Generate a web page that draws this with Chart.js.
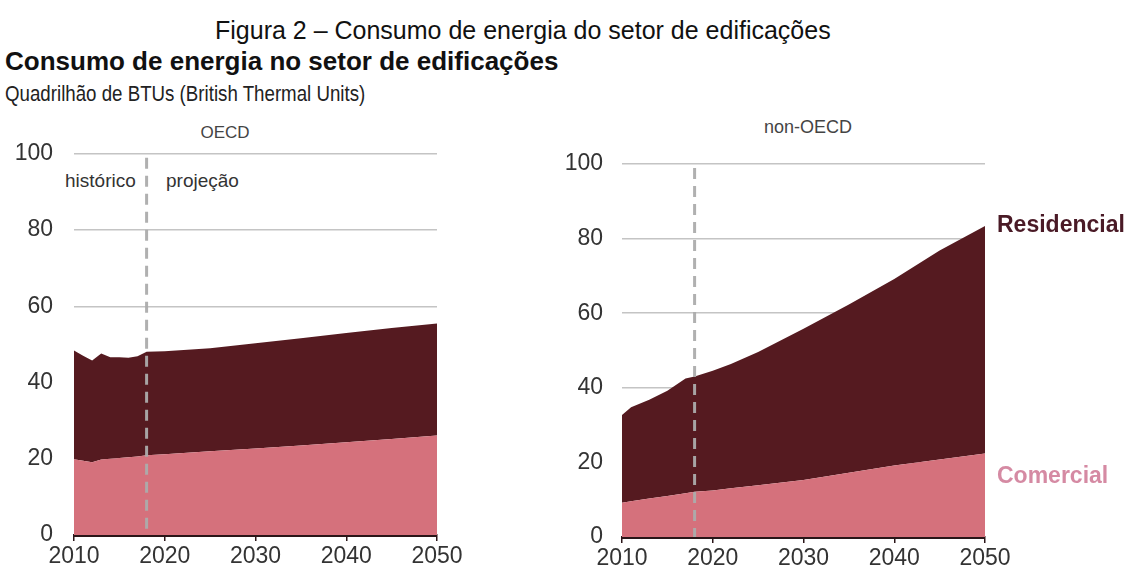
<!DOCTYPE html>
<html lang="pt-BR">
<head>
<meta charset="utf-8">
<script src="https://cdn.jsdelivr.net/npm/chart.js@4.4.1/dist/chart.umd.min.js"></script>
<style>
  html, body { margin: 0; padding: 0; background: #fff; }
  body { width: 1141px; height: 577px; position: relative; overflow: hidden; font-family: "Liberation Sans", Arial, sans-serif; }
  .txt { position: absolute; white-space: nowrap; line-height: 1; }
  canvas { position: absolute; }
</style>
</head>
<body>
<div class="txt" style="left:215px; top:18px; font-size:25px; color:#111;">Figura 2 – Consumo de energia do setor de edificações</div>
<div class="txt" style="left:5px; top:48px; font-size:26px; font-weight:bold; color:#111;">Consumo de energia no setor de edificações</div>
<div class="txt" style="left:5px; top:83px; font-size:22px; color:#222; transform:scaleX(0.85); transform-origin:left top;">Quadrilhão de BTUs (British Thermal Units)</div>

<div class="txt" style="left:225px; top:124px; font-size:17px; color:#444; transform:translateX(-50%);">OECD</div>
<div class="txt" style="left:808px; top:118px; font-size:18px; color:#444; transform:translateX(-50%);">non-OECD</div>
<div class="txt" style="left:65px; top:171px; font-size:19px; color:#333;">histórico</div>
<div class="txt" style="left:166px; top:171px; font-size:19px; color:#333;">projeção</div>

<canvas id="oecd" width="480" height="437" style="left:0; top:140px; width:480px; height:437px;"></canvas>
<canvas id="naoOecd" width="601" height="437" style="left:540px; top:140px; width:601px; height:437px;"></canvas>

<div class="txt" style="left:997px; top:213px; font-size:23px; font-weight:bold; color:#4a1a26;">Residencial</div>
<div class="txt" style="left:997px; top:464px; font-size:23px; font-weight:bold; color:#d58aa3;">Comercial</div>

<script>
// dados (quadrilhão de BTU)
const anosOecd = [2010, 2011, 2012, 2013, 2014, 2015, 2016, 2017, 2018, 2020, 2025, 2030, 2035, 2040, 2045, 2050];
const comercialOecd = [19.9, 19.5, 19.1, 19.8, 20.0, 20.2, 20.4, 20.6, 20.9, 21.2, 22.0, 22.7, 23.5, 24.3, 25.2, 26.1];
const residencialOecd = [28.5, 27.5, 26.7, 27.8, 26.6, 26.4, 26.1, 26.3, 27.2, 27.0, 27.0, 27.6, 28.1, 28.7, 29.1, 29.4];

const anosNaoOecd = [2010, 2011, 2013, 2015, 2017, 2018, 2020, 2022, 2025, 2030, 2035, 2040, 2045, 2050];
const comercialNaoOecd = [9.2, 9.6, 10.3, 11.0, 11.7, 12.1, 12.5, 13.1, 13.9, 15.3, 17.2, 19.2, 20.8, 22.4];
const residencialNaoOecd = [23.5, 25.2, 26.5, 28.2, 30.8, 30.9, 32.1, 33.3, 35.7, 40.5, 45.1, 50.0, 56.0, 61.0];

const ticksAno = [2010, 2020, 2030, 2040, 2050];
const ticksValor = [0, 20, 40, 60, 80, 100];
const inicioProjecao = 2018;

const COR_COMERCIAL = '#d5717c';
const COR_RESIDENCIAL = '#551a20';
const FONTE = '"Liberation Sans", Arial, sans-serif';

// linha tracejada histórico / projeção
const linhaProjecao = {
    id: 'linhaProjecao',
    afterDatasetsDraw(chart) {
        const { ctx, chartArea, scales } = chart;
        const x = scales.x.getPixelForValue(inicioProjecao);
        ctx.save();
        ctx.strokeStyle = 'rgba(172,172,172,0.95)';
        ctx.lineWidth = 3;
        ctx.setLineDash([11, 7]);
        ctx.beginPath();
        ctx.moveTo(x, chartArea.top + 4);
        ctx.lineTo(x, chartArea.bottom);
        ctx.stroke();
        ctx.restore();
    }
};

function montaGrafico(id, anos, comercial, residencial, cfg) {
    const pontos = vals => vals.map((v, i) => ({ x: anos[i], y: v }));
    return new Chart(document.getElementById(id), {
        type: 'line',
        data: {
            datasets: [
                { label: 'Comercial', data: pontos(comercial), fill: 'origin', backgroundColor: COR_COMERCIAL, borderWidth: 0, pointRadius: 0 },
                { label: 'Residencial', data: pontos(residencial), fill: '-1', backgroundColor: COR_RESIDENCIAL, borderWidth: 0, pointRadius: 0 }
            ]
        },
        options: {
            responsive: false,
            animation: false,
            layout: { padding: { top: cfg.padTop, right: cfg.padRight, left: 0, bottom: 0 } },
            plugins: { legend: { display: false }, tooltip: { enabled: false } },
            scales: {
                x: {
                    type: 'linear', min: 2010, max: 2050, z: 1,
                    afterBuildTicks: s => { s.ticks = ticksAno.map(v => ({ value: v })); },
                    afterFit: s => { s.height = cfg.xHeight; },
                    grid: { drawOnChartArea: false, drawTicks: true, tickLength: 6, color: '#2a1518', lineWidth: 1.5 },
                    border: { display: true, color: '#2a1518', width: 3 },
                    ticks: { color: '#333', font: { family: FONTE, size: 23 }, padding: 2, maxRotation: 0, callback: v => String(v) }
                },
                y: {
                    stacked: true, min: 0, max: 100,
                    afterBuildTicks: s => { s.ticks = ticksValor.map(v => ({ value: v })); },
                    afterFit: s => { s.width = cfg.yWidth; },
                    // espaço entre rótulo e área via tickLength invisível (ticks.padding empurra o topo)
                    grid: { drawTicks: true, tickLength: cfg.yGap, tickColor: 'rgba(0,0,0,0)', color: '#c4c4c4', lineWidth: 1.5 },
                    border: { display: false },
                    ticks: { color: '#333', font: { family: FONTE, size: 23 }, padding: 0 }
                }
            }
        },
        plugins: [linhaProjecao]
    });
}

montaGrafico('oecd', anosOecd, comercialOecd, residencialOecd,
    { padTop: 13, padRight: 43, xHeight: 42, yWidth: 74, yGap: 21 });
montaGrafico('naoOecd', anosNaoOecd, comercialNaoOecd, residencialNaoOecd,
    { padTop: 24, padRight: 156, xHeight: 40, yWidth: 82, yGap: 19 });
</script>
</body>
</html>
